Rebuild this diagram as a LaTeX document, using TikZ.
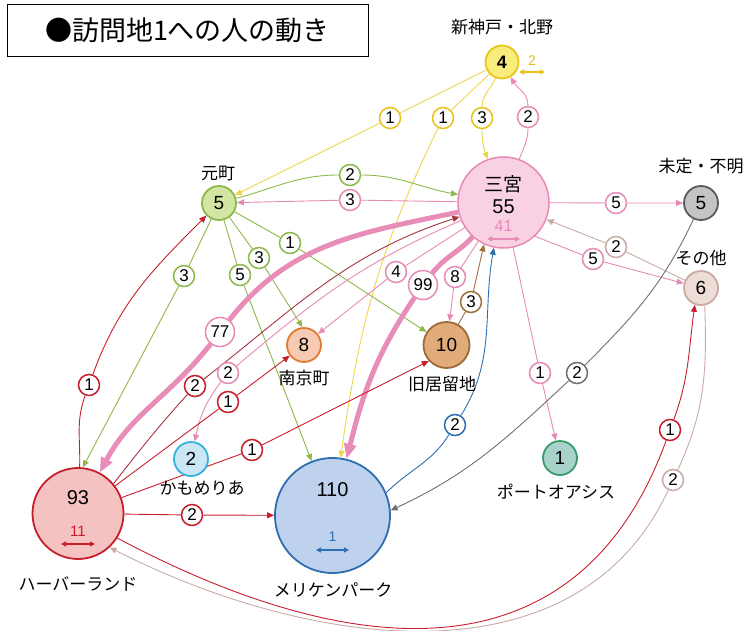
\documentclass[tikz,border=0pt]{standalone}
\usepackage{fontspec}
\setmainfont{Liberation Sans}
\newfontfamily\jpf{Noto Sans CJK JP}
\usetikzlibrary{arrows.meta,backgrounds}
\definecolor{cy}{HTML}{EDD64A}
\definecolor{cyd}{HTML}{E8C21A}
\definecolor{cg}{HTML}{8DB84C}
\definecolor{cp}{HTML}{E68BB5}
\definecolor{cpt}{HTML}{E88CB8}
\definecolor{cr}{HTML}{C81E2C}
\definecolor{cdr}{HTML}{A3343F}
\definecolor{cbr}{HTML}{A0703C}
\definecolor{cb}{HTML}{2E6EB0}
\definecolor{cgr}{HTML}{707070}
\definecolor{ct}{HTML}{C9ABA5}
\definecolor{kitaF}{HTML}{F8EC7A}\definecolor{kitaD}{HTML}{E8C41E}
\definecolor{sannoF}{HTML}{F8D2E2}\definecolor{sannoD}{HTML}{E88AB6}
\definecolor{miteiF}{HTML}{C4C4C4}\definecolor{miteiD}{HTML}{5A5A5A}
\definecolor{sonotaF}{HTML}{EEDDD7}\definecolor{sonotaD}{HTML}{C9A9A1}
\definecolor{motoF}{HTML}{D2E5A2}\definecolor{motoD}{HTML}{8DB84C}
\definecolor{nankinF}{HTML}{F7CBB2}\definecolor{nankinD}{HTML}{E27B32}
\definecolor{kyoF}{HTML}{E2AC7A}\definecolor{kyoD}{HTML}{9C6A38}
\definecolor{kamoF}{HTML}{CBE7F6}\definecolor{kamoD}{HTML}{34B2DA}
\definecolor{harF}{HTML}{F5C2C2}\definecolor{harD}{HTML}{C81E2C}
\definecolor{meriF}{HTML}{BED2EE}\definecolor{meriD}{HTML}{2E6EB0}
\definecolor{portF}{HTML}{A9D2CA}\definecolor{portD}{HTML}{3A9A6A}
\begin{document}
\begin{tikzpicture}[x=1pt,y=1pt,
  site/.style={circle, line width=1.8pt, inner sep=0pt, font=\fontsize{19}{21}\selectfont},
  txt/.style={inner sep=0pt, font=\fontsize{20}{22}\selectfont},
  jptext/.style={inner sep=0pt, font=\jpf\fontsize{17}{19}\selectfont},
  lab/.style={circle, draw=#1, fill=white, line width=1.5pt, inner sep=0pt, minimum size=21pt, font=\fontsize{17}{19}\selectfont},
  labw/.style={lab=#1, minimum size=29pt},
  conn/.style={draw=#1, line width=0.9pt, -{Triangle[length=7pt,width=6pt]}},
  thickp/.style={draw=cpt, line width=5pt, -{Triangle[length=15pt,width=12pt]}},
  selfarrow/.style={draw=#1, line width=1.5pt, {Triangle[length=5pt,width=5pt]}-{Triangle[length=5pt,width=5pt]}}
]
\useasboundingbox (0,0) rectangle (745,-630);
% title
\node[draw, line width=1pt, minimum width=361pt, minimum height=52pt, inner sep=0pt,
      font=\jpf\fontsize{27}{29}\selectfont] (title) at (187.5,-30) {●訪問地1への人の動き};
% main nodes
\node[site, fill=kitaF, draw=kitaD, minimum size=33pt, font=\bfseries\fontsize{18}{20}\selectfont] (kita) at (502,-62) {4};
\node[site, fill=sannoF, draw=sannoD, line width=1.5pt, minimum size=91pt] (sanno) at (503.5,-202.5) {};
\node[site, fill=miteiF, draw=miteiD, minimum size=34pt] (mitei) at (701,-203) {5};
\node[site, fill=sonotaF, draw=sonotaD, minimum size=34pt] (sonota) at (701,-288) {6};
\node[site, fill=motoF, draw=motoD, minimum size=34pt] (moto) at (219,-203) {5};
\node[site, fill=nankinF, draw=nankinD, minimum size=34pt] (nankin) at (304,-345) {8};
\node[site, fill=kyoF, draw=kyoD, minimum size=46pt] (kyoryu) at (446.5,-345) {10};
\node[site, fill=kamoF, draw=kamoD, minimum size=34pt] (kamo) at (191,-459) {2};
\node[site, fill=harF, draw=harD, minimum size=91pt] (harbor) at (78,-513.5) {};
\node[site, fill=meriF, draw=meriD, minimum size=115pt] (meri) at (332.5,-515.5) {};
\node[site, fill=portF, draw=portD, minimum size=34pt] (port) at (560,-458) {1};
% texts inside big nodes
\node[txt, font=\jpf\fontsize{19}{21}\selectfont] (tsan1) at (503.5,-184) {三宮};
\node[txt] (tsan2) at (503.5,-207) {55};
\node[txt, text=sannoD, font=\fontsize{16}{18}\selectfont] (tsan3) at (503.5,-226) {41};
\node[txt] (thar1) at (78,-498) {93};
\node[txt, text=cr, font=\fontsize{15}{17}\selectfont] (thar2) at (78,-531) {11};
\node[txt] (tmer1) at (332.5,-490) {110};
\node[txt, text=cb, font=\fontsize{14}{16}\selectfont] (tmer2) at (332.5,-537) {1};
\node[txt, text=cyd, font=\fontsize{14}{16}\selectfont] (tkit2) at (532,-61) {2};
% place names
\node[jptext] (nkita) at (502,-27) {新神戸・北野};
\node[jptext] (nmoto) at (218,-173) {元町};
\node[jptext] (nmitei) at (701,-166) {未定・不明};
\node[jptext] (nsonota) at (701,-258) {その他};
\node[jptext] (nnankin) at (304,-378) {南京町};
\node[jptext] (nkyoryu) at (442,-384) {旧居留地};
\node[jptext] (nkamo) at (202,-488) {かもめりあ};
\node[jptext] (nharbor) at (78,-584) {ハーバーランド};
\node[jptext] (nmeri) at (333,-590) {メリケンパーク};
\node[jptext] (nport) at (556,-492) {ポートオアシス};
% edge labels
\node[lab=cyd] (lk1) at (390,-118) {1};
\node[lab=cyd] (lk2) at (443,-118) {1};
\node[lab=cyd] (lk3) at (482,-118) {3};
\node[lab=cp] (ls4) at (528,-117) {2};
\node[lab=cg] (lm1) at (350,-175) {2};
\node[lab=cp] (ls1) at (350,-200) {3};
\node[lab=cg] (lm2) at (290,-243) {1};
\node[lab=cg] (lm3) at (259,-258) {3};
\node[lab=cg] (lm4) at (240,-275) {5};
\node[lab=cg] (lm5) at (184,-276) {3};
\node[lab=cr] (lh1) at (89,-385) {1};
\node[labw=cp] (ls77) at (220,-332) {77};
\node[labw=cp] (ls99) at (423,-285) {99};
\node[lab=cp] (ls4n) at (396,-272) {4};
\node[lab=cp] (ls8) at (455,-277) {8};
\node[lab=cbr] (lky) at (471,-302) {3};
\node[lab=cb] (lme) at (455,-425) {2};
\node[lab=cp] (lskm) at (228,-373) {2};
\node[lab=cr] (lhs) at (195,-386) {2};
\node[lab=cp] (lsp) at (540,-373) {1};
\node[lab=cp] (lsmi) at (616,-203) {5};
\node[lab=cp] (lsso) at (593,-259) {5};
\node[lab=ct] (lsos) at (616,-247) {2};
\node[lab=cgr] (lmim) at (577,-373) {2};
\node[lab=cr] (lhn) at (228,-402) {1};
\node[lab=cr] (lhk) at (252,-450) {1};
\node[lab=cr] (lhm) at (192,-515) {2};
\node[lab=cr] (lhso) at (670,-430) {1};
\node[lab=ct] (lsoh) at (673,-480) {2};
% self arrows
\coordinate (ka1) at (519,-72); \coordinate (ka2) at (545,-72);
\coordinate (sa1) at (487,-239); \coordinate (sa2) at (520,-239);
\coordinate (ha1) at (61,-544); \coordinate (ha2) at (95,-544);
\coordinate (ma1) at (316,-550); \coordinate (ma2) at (349,-550);
\draw[selfarrow=cyd] (ka1) -- (ka2);
\draw[selfarrow=sannoD] (sa1) -- (sa2);
\draw[selfarrow=cr] (ha1) -- (ha2);
\draw[selfarrow=cb] (ma1) -- (ma2);
% connectors
\begin{scope}[on background layer]
\draw[conn=cy] (kita) -- (lk1) -- (moto);
\draw[conn=cy] (kita) -- (lk2) to[out=244,in=82] (meri);
\draw[conn=cy] (kita) to[out=248,in=90] (lk3) to[out=-90,in=110] (sanno);
\draw[conn=cp] (sanno) to[out=70,in=-90] (ls4) to[out=90,in=-60] (kita);
\draw[conn=cg] (moto) to[out=15,in=180] (lm1) to[out=0,in=170] (sanno);
\draw[conn=cp] (sanno) -- (ls1) -- (moto);
\draw[conn=cg] (moto) -- (lm2) -- (kyoryu);
\draw[conn=cg] (moto) -- (lm3) -- (nankin.95);
\draw[conn=cg] (moto) -- (lm4) -- (meri);
\draw[conn=cg] (moto) -- (lm5) -- (harbor.84);
\draw[conn=cr] (harbor) to[out=88,in=250] (lh1) to[out=70,in=225] (moto);
\draw[thickp] (sanno) to[out=192,in=52] (ls77) to[out=232,in=62] (harbor);
\draw[thickp] (sanno) to[out=228,in=52] (ls99) to[out=236,in=76] (meri);
\draw[conn=cp] (sanno) -- (ls4n) -- (nankin);
\draw[conn=cp] (sanno) -- (ls8) -- (kyoryu);
\draw[conn=cbr] (kyoryu) -- (lky) -- (sanno.245);
\draw[conn=cb] (meri.23) to[out=45,in=238] (lme) to[out=58,in=260] (sanno.258);
\draw[conn=cp] (sanno) to[out=203,in=40] (lskm) to[out=232,in=78] (kamo);
\draw[conn=cdr] (harbor.40) to[out=52,in=228] (lhs) to[out=38,in=198] (sanno);
\draw[conn=cp] (sanno) -- (lsp) -- (port);
\draw[conn=cp] (sanno) -- (lsmi) -- (mitei);
\draw[conn=cp] (sanno.-47) -- (lsso) -- (sonota);
\draw[conn=ct] (sonota) -- (lsos) -- (sanno);
\draw[conn=cgr] (mitei) to[out=245,in=45] (lmim) to[out=223,in=25] (meri.5);
\draw[conn=cr] (harbor) -- (lhn) -- (nankin);
\draw[conn=cr] (harbor) -- (lhk) -- (kyoryu.222);
\draw[conn=cr] (harbor) -- (lhm) -- (meri);
\draw[conn=cr] (harbor.-32) to[out=-28,in=250,looseness=1.2] (lhso) to[out=70,in=262] (sonota.250);
\draw[conn=ct] (sonota.-78) to[out=-88,in=65] (lsoh) to[out=245,in=-27,looseness=1.0] (harbor.-47);
\end{scope}
\end{tikzpicture}
\end{document}
